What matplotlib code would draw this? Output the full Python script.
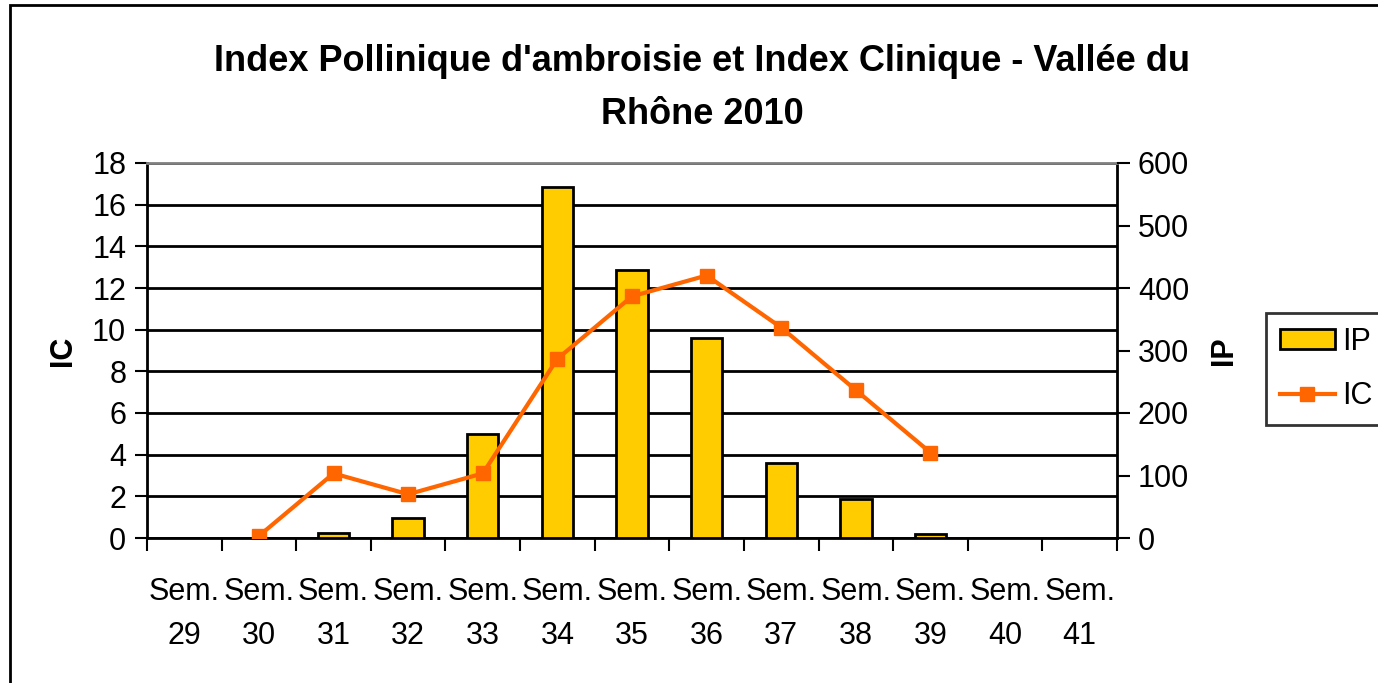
import matplotlib.pyplot as plt
import matplotlib.patches as mpatches
import numpy as np

plt.rcParams['font.family'] = ['Liberation Sans', 'DejaVu Sans']

weeks = ["Sem.\n29", "Sem.\n30", "Sem.\n31", "Sem.\n32", "Sem.\n33", "Sem.\n34", "Sem.\n35",
         "Sem.\n36", "Sem.\n37", "Sem.\n38", "Sem.\n39", "Sem.\n40", "Sem.\n41"]
ip = [0, 0, 8, 32, 166, 562, 429, 320, 120, 62, 7, 0, 0]
ic = [np.nan, 0.1, 3.1, 2.1, 3.1, 8.6, 11.6, 12.6, 10.1, 7.1, 4.1, np.nan, np.nan]

x = np.arange(len(weeks))

fig = plt.figure(figsize=(13.78, 6.83), dpi=100)
ax = fig.add_axes([147/1378, 1-538/683, (1117-147)/1378, (538-163)/683])
ax2 = ax.twinx()
ax3 = ax.twinx()
ax.set_zorder(1)
ax2.set_zorder(2)
ax3.set_zorder(3)
ax2.patch.set_visible(False)
ax3.patch.set_visible(False)

# left axis: IC, grid
ax.set_ylim(0, 18)
ax.set_yticks(np.arange(0, 19, 2))
ax.yaxis.grid(True, color='black', linewidth=2)
ax.set_axisbelow(True)
ax.set_xlim(-0.5, len(weeks)-0.5)
ax.set_xticks(np.arange(-0.5, len(weeks), 1))
ax.set_xticklabels([])
ax.set_xticks(x, minor=True)
ax.set_xticklabels(weeks, minor=True, fontsize=22, linespacing=1.6)
ax.tick_params(axis='x', which='major', length=9, width=1.5, direction='out')
ax.tick_params(axis='x', which='minor', length=0, pad=28)
ax.tick_params(axis='y', labelsize=22, length=9, width=1.5, pad=6)
ax.set_ylabel("IC", fontsize=22, fontweight='bold', labelpad=10)
for s in ['left', 'bottom', 'right']:
    ax.spines[s].set_linewidth(2)
ax.spines['top'].set_color('#808080')
ax.spines['top'].set_linewidth(2)

# right axis: IP bars
ax2.bar(x, ip, width=0.42, color='#FFCC00', edgecolor='black', linewidth=2, label='IP')
ax2.set_ylim(0, 600)
ax2.set_yticks(np.arange(0, 601, 100))
ax2.tick_params(axis='y', labelsize=22, length=9, width=1.5, pad=6)
ax2.set_ylabel("IP", fontsize=22, fontweight='bold', labelpad=14)
for s in ax2.spines.values():
    s.set_visible(False)

# line on left scale
ax3.plot(x, ic, color='#FF6600', linewidth=3, marker='s', markersize=10, label='IC')
ax3.set_ylim(0, 18)
ax3.set_yticks([])
for s in ax3.spines.values():
    s.set_visible(False)

fig.text(702/1378, 1-88/683, "Index Pollinique d'ambroisie et Index Clinique - Vallée du\nRhône 2010",
         fontsize=26, fontweight='bold', ha='center', va='center', linespacing=1.67)

h2, l2 = ax2.get_legend_handles_labels()
h3, l3 = ax3.get_legend_handles_labels()
leg = fig.legend(h2 + h3, l2 + l3, loc='upper left', bbox_to_anchor=(1266/1378, 1-313/683),
                 fontsize=22, frameon=True, fancybox=False, edgecolor='black',
                 handlelength=1.8, handleheight=0.6, handletextpad=0.25, borderpad=0.45,
                 labelspacing=0.8, borderaxespad=0)
leg.get_frame().set_linewidth(2)

fig.patches.append(mpatches.Rectangle((10/1378, -0.05), 1.1, 1 - 5/683 + 0.05,
                                      transform=fig.transFigure, fill=False,
                                      edgecolor='black', linewidth=2))

fig.savefig("out.png", dpi=100)
